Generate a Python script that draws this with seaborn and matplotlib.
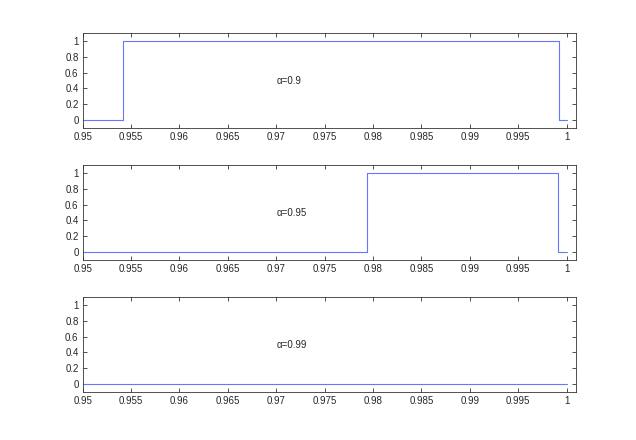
import matplotlib
matplotlib.use("Agg")
import matplotlib.pyplot as plt
import seaborn as sns
import pandas as pd

# step breakpoints (value holds until next x)
x_09 = [0.95, 0.9542, 0.9992, 1.0]
y_09 = [0, 1, 0, 0]

x_095 = [0.95, 0.9794, 0.9991, 1.0]
y_095 = [0, 1, 0, 0]

x_099 = [0.95, 1.0]
y_099 = [0, 0]

labels = ["\u03b1=0.9", "\u03b1=0.95", "\u03b1=0.99"]
xticks = [0.95, 0.955, 0.96, 0.965, 0.97, 0.975, 0.98, 0.985, 0.99, 0.995, 1]
yticks = [0, 0.2, 0.4, 0.6, 0.8, 1]

sns.set_style("ticks")
plt.rcParams["font.family"] = ["Liberation Sans", "DejaVu Sans"]

fig = plt.figure(figsize=(6.36, 4.4), dpi=100)

series = [(x_09, y_09), (x_095, y_095), (x_099, y_099)]
bottoms = [0.709, 0.409, 0.109]

for i, (xs, ys) in enumerate(series):
    ax = fig.add_axes([0.13, bottoms[i], 0.775, 0.216])
    df = pd.DataFrame({"x": xs, "y": ys})
    sns.lineplot(data=df, x="x", y="y", ax=ax, color="#6677ff",
                 linewidth=0.8, drawstyle="steps-post", estimator=None, sort=False)
    ax.set_xlim(0.95, 1.00093)
    ax.set_ylim(-0.1, 1.1)
    ax.set_xticks(xticks)
    ax.set_xticklabels([f"{t:g}" for t in xticks])
    ax.set_yticks(yticks)
    ax.set_yticklabels([f"{t:g}" for t in yticks])
    ax.set_xlabel("")
    ax.set_ylabel("")
    ax.tick_params(direction="in", top=True, right=True, length=3,
                   width=0.6, labelsize=7, pad=3, color="#333333")
    for s in ax.spines.values():
        s.set_linewidth(0.6)
        s.set_color("#333333")
        s.set_visible(True)
    ax.text(0.97, 0.5, labels[i], fontsize=7, ha="left", va="center")

fig.savefig("out.png", dpi=100, facecolor="white")
